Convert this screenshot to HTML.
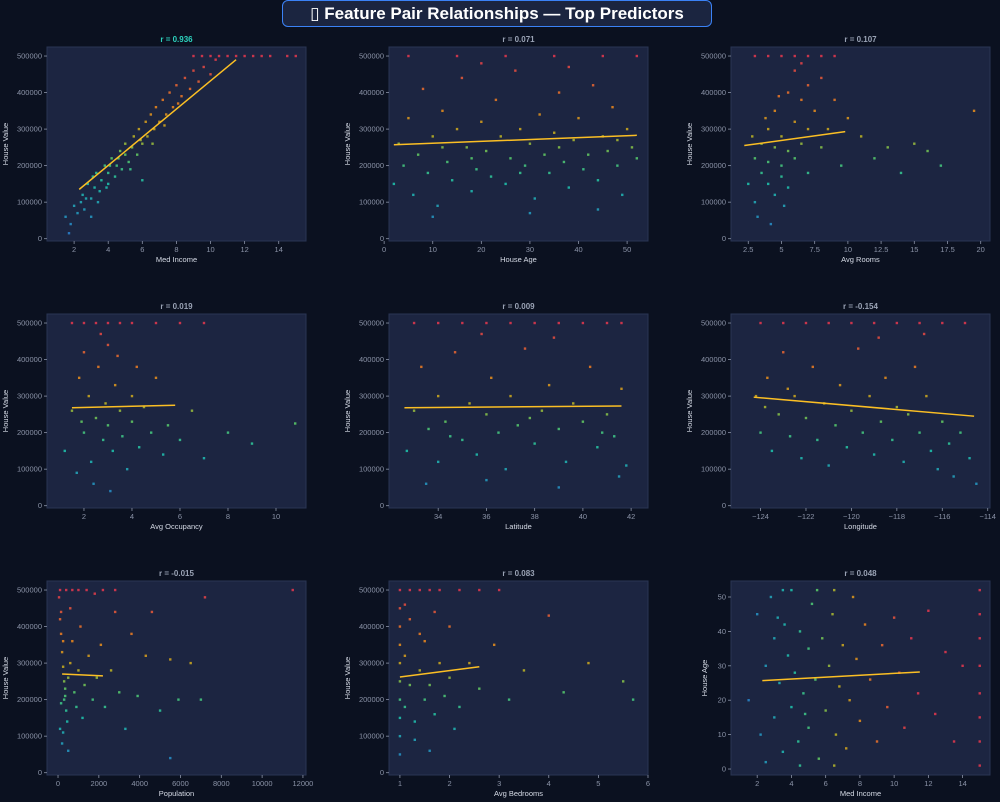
<!DOCTYPE html>
<html><head><meta charset="utf-8"><style>
html,body{margin:0;padding:0;background:#0b1120;}
body{width:1000px;height:802px;overflow:hidden;position:relative;font-family:"Liberation Sans","DejaVu Sans",sans-serif;}
#title{position:absolute;left:282px;top:0;width:430px;height:27px;border:1.5px solid #3b82f6;border-radius:6px;background:#1b2540;color:#fff;font-weight:bold;font-size:17px;line-height:25px;text-align:center;box-sizing:border-box;}
svg{position:absolute;left:0;top:0;}
</style></head><body>
<div id="title">▯ Feature Pair Relationships — Top Predictors</div>
<svg id="chart" width="1000" height="802"></svg>
<script>
const titlesR=["r = 0.936","r = 0.071","r = 0.107","r = 0.019","r = 0.009","r = -0.154","r = -0.015","r = 0.083","r = 0.048"];
const xLabels=["Med Income","House Age","Avg Rooms","Avg Occupancy","Latitude","Longitude","Population","Avg Bedrooms","Med Income"];
const yLabels=["House Value","House Value","House Value","House Value","House Value","House Value","House Value","House Value","House Age"];
const xTicks=[[2,4,6,8,10,12,14],[0,10,20,30,40,50],[2.5,5,7.5,10,12.5,15,17.5,20],[2,4,6,8,10],[34,36,38,40,42],[-124,-122,-120,-118,-116,-114],[0,2000,4000,6000,8000,10000,12000],[1,2,3,4,5,6],[2,4,6,8,10,12,14]];
const yTicksValue=[0,100000,200000,300000,400000,500000];
const yTicksAge=[0,10,20,30,40,50];
const xLims=[[0.41,15.6],[1,54.3],[1.2,20.7],[0.46,11.25],[31.96,42.7],[-125.3,-113.9],[-540,12150],[0.78,6.0],[0.47,15.6]];
const fitLines=[[2.3,135000,11.5,490000],[2,257000,52,283000],[2.2,255000,9.8,293000],[1.5,268000,5.8,275000],[32.6,268000,41.6,273000],[-124.3,297000,-114.6,245000],[200,270000,2200,265000],[1,262000,2.6,290000],[2.3,25.7,11.5,28.2]];
const pts1=[[1.5,60000],[1.8,40000],[1.7,15000],[2,90000],[2.2,70000],[2.5,120000],[2.6,80000],[2.8,150000],[3,110000],[3,60000],[3.2,140000],[3.3,180000],[3.5,130000],[3.6,160000],[3.8,200000],[4,150000],[4,180000],[4.2,220000],[4.4,170000],[4.5,200000],[4.7,240000],[4.8,190000],[5,230000],[5,260000],[5.2,210000],[5.4,250000],[5.5,280000],[5.7,230000],[5.8,300000],[6,260000],[6,160000],[6.2,320000],[6.3,280000],[6.5,340000],[6.7,300000],[6.8,360000],[7,320000],[7.2,380000],[7.4,340000],[7.6,400000],[7.8,360000],[8,420000],[8.3,390000],[8.5,440000],[8.8,410000],[9,460000],[9.3,430000],[9.6,470000],[10,450000],[10.3,490000],[9,500000],[9.5,500000],[10,500000],[10.5,500000],[11,500000],[11.5,500000],[12,500000],[12.5,500000],[13,500000],[13.5,500000],[14.5,500000],[15,500000],[2.7,110000],[3.4,100000],[3.9,140000],[4.6,220000],[5.3,190000],[5.9,270000],[6.6,260000],[7.3,310000],[8.1,370000],[4.1,200000],[3.1,170000],[2.4,100000]];
const pts2=[[2,150000],[3,260000],[4,200000],[5,330000],[6,120000],[7,230000],[8,410000],[9,180000],[10,280000],[11,90000],[12,350000],[13,210000],[14,160000],[15,300000],[16,440000],[17,250000],[18,130000],[19,190000],[20,320000],[21,240000],[22,170000],[23,380000],[24,280000],[25,150000],[26,220000],[27,460000],[28,300000],[29,200000],[30,260000],[31,110000],[32,340000],[33,230000],[34,180000],[35,290000],[36,400000],[37,210000],[38,140000],[39,270000],[40,330000],[41,190000],[42,230000],[43,420000],[44,160000],[45,280000],[46,240000],[47,360000],[48,200000],[49,120000],[50,300000],[51,250000],[52,220000],[52,500000],[5,500000],[15,500000],[25,500000],[35,500000],[45,500000],[10,60000],[30,70000],[44,80000],[20,480000],[38,470000],[12,250000],[28,180000],[48,270000],[18,220000],[36,250000]];
const pts3=[[2.5,150000],[3,220000],[3,100000],[3.5,260000],[3.5,180000],[4,300000],[4,150000],[4,210000],[4.5,250000],[4.5,120000],[4.5,350000],[5,200000],[5,280000],[5,170000],[5.5,400000],[5.5,240000],[5.5,140000],[6,320000],[6,220000],[6,460000],[6.5,380000],[6.5,260000],[7,420000],[7,300000],[7,180000],[7.5,350000],[8,440000],[8,250000],[8.5,300000],[9,380000],[9.5,200000],[10,330000],[11,280000],[12,220000],[13,250000],[14,180000],[15,260000],[16,240000],[17,200000],[19.5,350000],[3,500000],[4,500000],[5,500000],[6,500000],[7,500000],[8,500000],[9,500000],[3.2,60000],[4.2,40000],[5.2,90000],[6.5,480000],[3.8,330000],[4.8,390000],[2.8,280000]];
const pts4=[[1.2,150000],[1.5,260000],[1.8,350000],[2,200000],[2,420000],[2.2,300000],[2.3,120000],[2.5,240000],[2.6,380000],[2.8,180000],[2.9,280000],[3,220000],[3,440000],[3.2,150000],[3.3,330000],[3.5,260000],[3.6,190000],[3.8,100000],[4,230000],[4,300000],[4.3,160000],[4.5,270000],[4.8,200000],[5,350000],[5.3,140000],[5.5,220000],[6,180000],[6.5,260000],[7,130000],[8,200000],[9,170000],[10.8,225000],[1.5,500000],[2,500000],[2.5,500000],[3,500000],[3.5,500000],[4,500000],[5,500000],[6,500000],[7,500000],[2.4,60000],[3.1,40000],[1.7,90000],[2.7,470000],[3.4,410000],[1.9,230000],[4.2,380000]];
const pts5=[[32.7,150000],[33,260000],[33.3,380000],[33.6,210000],[34,300000],[34,120000],[34.3,230000],[34.7,420000],[35,180000],[35.3,280000],[35.6,140000],[36,250000],[36.2,350000],[36.5,200000],[36.8,100000],[37,300000],[37.3,220000],[37.6,430000],[38,170000],[38.3,260000],[38.6,330000],[39,210000],[39.3,120000],[39.6,280000],[40,230000],[40.3,380000],[40.6,160000],[41,250000],[41.3,190000],[41.6,320000],[41.8,110000],[33,500000],[34,500000],[35,500000],[36,500000],[37,500000],[38,500000],[39,500000],[40,500000],[41,500000],[41.6,500000],[33.5,60000],[36,70000],[39,50000],[41.5,80000],[34.5,190000],[37.8,240000],[40.8,200000],[35.8,470000],[38.8,460000]];
const pts6=[[-124.2,300000],[-124,200000],[-123.7,350000],[-123.5,150000],[-123.2,250000],[-123,420000],[-122.7,190000],[-122.5,300000],[-122.2,130000],[-122,240000],[-121.7,380000],[-121.5,180000],[-121.2,280000],[-121,110000],[-120.7,220000],[-120.5,330000],[-120.2,160000],[-120,260000],[-119.7,430000],[-119.5,200000],[-119.2,300000],[-119,140000],[-118.7,230000],[-118.5,350000],[-118.2,180000],[-118,270000],[-117.7,120000],[-117.5,250000],[-117.2,380000],[-117,200000],[-116.7,300000],[-116.5,150000],[-116.2,100000],[-116,230000],[-115.7,170000],[-115.5,80000],[-115.2,200000],[-114.8,130000],[-114.5,60000],[-124,500000],[-123,500000],[-122,500000],[-121,500000],[-120,500000],[-119,500000],[-118,500000],[-117,500000],[-116,500000],[-115,500000],[-123.8,270000],[-122.8,320000],[-118.8,460000],[-116.8,470000]];
const pts7=[[50,480000],[100,420000],[150,380000],[200,330000],[250,290000],[300,250000],[350,210000],[400,170000],[450,140000],[100,120000],[200,80000],[300,200000],[500,260000],[600,300000],[700,360000],[800,220000],[900,180000],[1000,280000],[1100,400000],[1200,150000],[1300,240000],[1500,320000],[1700,200000],[1900,260000],[2100,350000],[2300,180000],[2600,280000],[2800,440000],[3000,220000],[3300,120000],[3600,380000],[3900,210000],[4300,320000],[4600,440000],[5000,170000],[5500,310000],[5900,200000],[6500,300000],[7000,200000],[7200,480000],[11500,500000],[100,500000],[400,500000],[700,500000],[1000,500000],[1400,500000],[1800,490000],[2200,500000],[2800,500000],[150,440000],[250,360000],[350,230000],[150,190000],[250,110000],[500,60000],[5500,40000],[600,450000]];
const pts8=[[1,50000],[1,100000],[1,150000],[1,200000],[1,250000],[1,300000],[1,350000],[1,400000],[1,450000],[1.1,180000],[1.1,320000],[1.2,240000],[1.2,420000],[1.3,140000],[1.4,280000],[1.5,200000],[1.5,360000],[1.6,240000],[1.7,160000],[1.8,300000],[1.9,210000],[2,260000],[2,400000],[2.2,180000],[2.4,300000],[2.6,230000],[2.9,350000],[3.2,200000],[3.5,280000],[4,430000],[4.3,220000],[4.8,300000],[5.5,250000],[5.7,200000],[1,500000],[1.2,500000],[1.4,500000],[1.6,500000],[1.8,500000],[2.2,500000],[2.6,500000],[3,500000],[1.3,90000],[1.6,60000],[1.1,460000],[2.1,120000],[1.4,380000],[1.7,440000]];
const pts9=[[1.5,20],[2,45],[2.2,10],[2.5,30],[2.8,50],[3,15],[3,38],[3.3,25],[3.5,5],[3.6,42],[3.8,33],[4,18],[4,52],[4.2,28],[4.4,8],[4.5,40],[4.7,22],[5,35],[5,12],[5.2,48],[5.4,26],[5.6,3],[5.8,38],[6,17],[6.2,30],[6.4,45],[6.6,10],[6.8,24],[7,36],[7.2,6],[7.4,20],[7.6,50],[7.8,32],[8,14],[8.3,42],[8.6,26],[9,8],[9.3,36],[9.6,18],[10,44],[10.3,28],[10.6,12],[11,38],[11.4,22],[12,46],[12.4,16],[13,34],[13.5,8],[14,30],[15,52],[15,45],[15,38],[15,30],[15,22],[15,15],[15,8],[15,1],[2.5,2],[3.5,52],[4.5,1],[5.5,52],[6.5,1],[3.2,44],[4.8,16],[6.5,52]];
const allPts=[pts1,pts2,pts3,pts4,pts5,pts6,pts7,pts8,pts9];

const NS="http://www.w3.org/2000/svg";
const svg=document.getElementById('chart');
function mk(tag,attrs,parent){const e=document.createElementNS(NS,tag);for(const k in attrs)e.setAttribute(k,attrs[k]);(parent||svg).appendChild(e);return e;}
const cmapStops=[[0,[43,123,212]],[0.3,[31,200,176]],[0.45,[91,208,106]],[0.57,[200,181,30]],[0.72,[240,138,28]],[1,[232,56,79]]];
function cmap(t){t=Math.max(0,Math.min(1,t));for(let i=1;i<cmapStops.length;i++){if(t<=cmapStops[i][0]){const a=cmapStops[i-1],b=cmapStops[i];const f=(t-a[0])/(b[0]-a[0]);const c=a[1].map((v,j)=>Math.round(v+(b[1][j]-v)*f));return `rgb(${c[0]},${c[1]},${c[2]})`;}}return 'rgb(232,56,79)';}
const colX=[47,389,731],colW=259,rowY=[47,314,581],rowH=194;
function fmt(v){let s=(Math.abs(v)%1!==0)?v.toFixed(1):String(v);return s.replace('-','−');}
for(let i=0;i<9;i++){
  const X0=colX[i%3],Y0=rowY[Math.floor(i/3)];
  const xl=xLims[i];const isAge=(i===8);
  const yl=isAge?[-1.74,54.65]:[-6300,524700];
  const sx=v=>X0+(v-xl[0])/(xl[1]-xl[0])*colW;
  const sy=v=>Y0+rowH-(v-yl[0])/(yl[1]-yl[0])*rowH;
  const g=mk('g',{});
  
  
  const bg=mk('rect',{x:X0,y:Y0,width:colW,height:rowH,fill:'#1c2541',stroke:'#2a3553','stroke-width':1},g);
  
  
  const t=mk('text',{x:X0+colW/2,y:Y0-5,'text-anchor':'middle','font-size':8,'font-weight':'bold',fill:i===0?'#2dd4bf':'#9aa3b5'},g);
  t.textContent=titlesR[i];
  
  
  xTicks[i].forEach(v=>{const x=sx(v);mk('line',{x1:x,x2:x,y1:Y0+rowH,y2:Y0+rowH+3,stroke:'#8b93a7','stroke-width':0.8},g);
    const l=mk('text',{x:x,y:Y0+rowH+11,'text-anchor':'middle','font-size':7.5,fill:'#8b93a7'},g);l.textContent=fmt(v);
    
    });
  (isAge?yTicksAge:yTicksValue).forEach(v=>{const y=sy(v);mk('line',{x1:X0-3,x2:X0,y1:y,y2:y,stroke:'#8b93a7','stroke-width':0.8},g);
    const l=mk('text',{x:X0-5,y:y+2.5,'text-anchor':'end','font-size':7.5,fill:'#8b93a7'},g);l.textContent=String(v);
    
    });
  const xt=mk('text',{x:X0+colW/2,y:Y0+rowH+21,'text-anchor':'middle','font-size':7.5,fill:'#d6dbe6'},g);xt.textContent=xLabels[i];
  
  
  const yx=X0-(isAge?24:39),yy=Y0+rowH/2;
  const yt=mk('text',{x:yx,y:yy,'text-anchor':'middle','font-size':7.5,fill:'#d6dbe6',transform:`rotate(-90 ${yx} ${yy})`},g);yt.textContent=yLabels[i];
  
  
  allPts[i].forEach(p=>{const c=isAge?cmap((p[0]-1)/10):cmap(p[1]/500000);
    const r=mk('rect',{x:sx(p[0])-1.2,y:sy(p[1])-1.2,width:2.4,height:2.4,fill:c,opacity:0.85},g);
    
    });
  const f=fitLines[i];
  const ln=mk('line',{x1:sx(f[0]),y1:sy(f[1]),x2:sx(f[2]),y2:sy(f[3]),stroke:'#fbbf24','stroke-width':1.5},g);
  
  
}
</script>
</body></html>
